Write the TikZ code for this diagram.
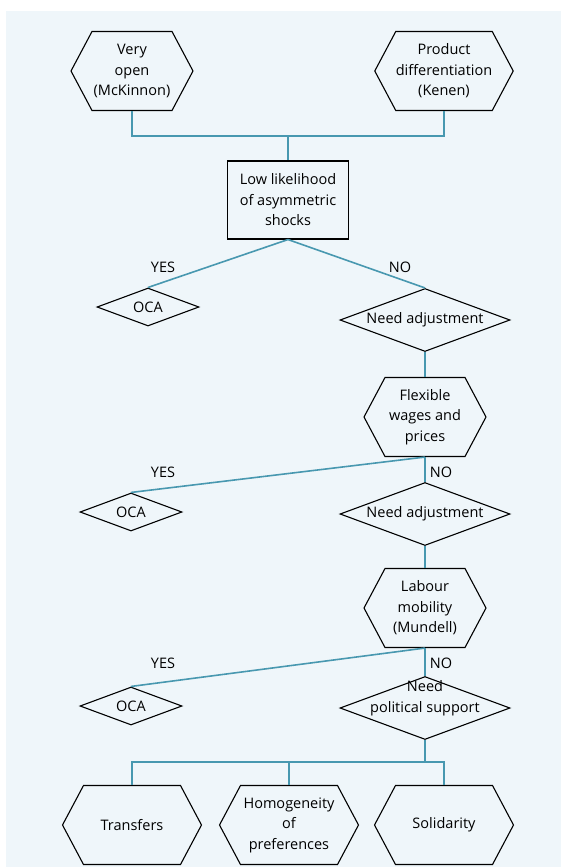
\documentclass[tikz,border=0pt]{standalone}
\usepackage{fontspec}
\setmainfont{Open Sans}
\usetikzlibrary{shapes.geometric,shapes.symbols,positioning}
\definecolor{linkteal}{RGB}{72,152,176}
\definecolor{paleblue}{RGB}{239,246,250}

\begin{document}
\begin{tikzpicture}[x=1pt, y=-1pt,
    every node/.style={font=\fontsize{14.5}{20.5}\selectfont, align=center},
    hexbox/.style={draw, line width=1.1pt, signal, signal to=west and east,
      signal pointer angle=124, minimum width=122, minimum height=79, inner sep=0pt},
    widehex/.style={hexbox, minimum width=139},
    querybox/.style={draw, line width=1.1pt, rectangle, minimum width=121,
      minimum height=78, inner sep=0pt},
    adjust/.style={draw, line width=1.1pt, diamond, aspect=2.7, minimum width=170,
      minimum height=63, inner sep=0pt},
    oca/.style={draw, line width=1.1pt, diamond, aspect=2.7, minimum width=102,
      minimum height=38, inner sep=0pt},
    answer/.style={inner sep=0pt},
    link/.style={draw=linkteal, line width=1.6pt}]
  % background
  \useasboundingbox (0,0) rectangle (561,867);
  \fill[white] (0,0) rectangle (561,867);
  \fill[paleblue] (6,11) rectangle (561,867);
  % the two criteria on top
  \node[hexbox] (open) at (132,71) {Very\\open\\(McKinnon)};
  \node[hexbox] (diff) at (444,71) {Product\\differentiation\\(Kenen)};
  \node[querybox] (shocks) at (288,200) {Low likelihood\\of asymmetric\\shocks};
  \coordinate (topjoin) at (288,136);
  \draw[link] (open.south) |- (topjoin) -| (diff.south);
  \draw[link] (topjoin) -- (shocks.north);
  % first test
  \node[oca] (ocaA) at (148,307) {OCA};
  \node[adjust] (adjA) at (425,320) {Need adjustment};
  \draw[link] (shocks.south) -- (ocaA.north);
  \draw[link] (shocks.south) -- (adjA.north);
  \node[answer] (yesA) at (163,267) {YES};
  \node[answer] (noA) at (400,267) {NO};
  % second test
  \node[hexbox] (flex) at (425,417) {Flexible\\wages and\\prices};
  \draw[link] (adjA.south) -- (flex.north);
  \node[oca] (ocaB) at (131,512) {OCA};
  \node[adjust] (adjB) at (425,514) {Need adjustment};
  \draw[link] (flex.south) -- (ocaB.north);
  \draw[link] (flex.south) -- (adjB.north);
  \node[answer] (yesB) at (163,472) {YES};
  \node[answer] (noB) at (441,472) {NO};
  % third test
  \node[hexbox] (mobility) at (425,608) {Labour\\mobility\\(Mundell)};
  \draw[link] (adjB.south) -- (mobility.north);
  \node[oca] (ocaC) at (131,706) {OCA};
  \node[adjust] (support) at (425,708)
    {\raisebox{6.5pt}[0pt][0pt]{\begin{tabular}{@{}c@{}}Need\\political support\end{tabular}}};
  \draw[link] (mobility.south) -- (ocaC.north);
  \draw[link] (mobility.south) -- (support.north);
  \node[answer] (yesC) at (163,663) {YES};
  \node[answer] (noC) at (441,663) {NO};
  % political support
  \node[widehex] (transfers) at (132,825) {Transfers};
  \node[widehex] (prefs) at (289,825) {Homogeneity\\of\\preferences};
  \node[widehex] (solidarity) at (444,825) {Solidarity};
  \coordinate (botjoin) at (425,762);
  \draw[link] (support.south) -- (botjoin);
  \draw[link] (transfers.north) |- (botjoin -| solidarity.north) -- (solidarity.north);
  \draw[link] (prefs.north) -- (prefs.north |- botjoin);
\end{tikzpicture}
\end{document}
